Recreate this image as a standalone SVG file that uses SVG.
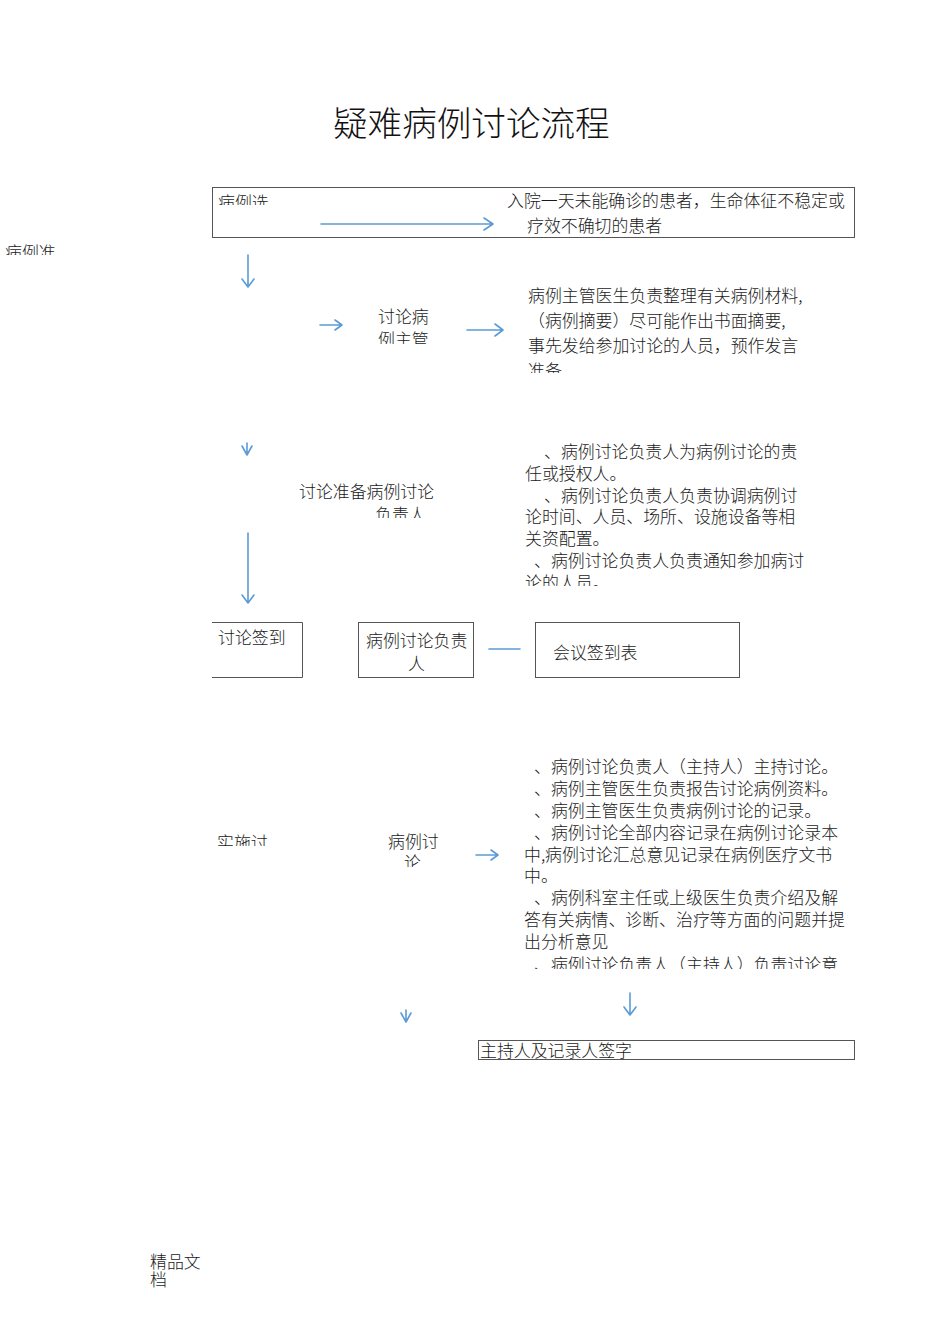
<svg xmlns="http://www.w3.org/2000/svg" width="950" height="1344" viewBox="0 0 950 1344">
<style>
text{font-family:"Noto Sans CJK SC","Liberation Serif",sans-serif;fill:#1a1a1a;font-size:16.9px;font-weight:300}
.t{font-size:34.6px;fill:#111}
.box{fill:none;stroke:#555;stroke-width:1}
.con{fill:none;stroke:#5b9bd5;stroke-width:1.6;stroke-linecap:round;stroke-linejoin:round}
</style>
<defs>
<clipPath id="c1"><rect x="210" y="180" width="100" height="25"/></clipPath>
<clipPath id="c2"><rect x="0" y="235" width="100" height="20"/></clipPath>
<clipPath id="c3"><rect x="370" y="328" width="70" height="16"/></clipPath>
<clipPath id="c4"><rect x="520" y="355" width="300" height="18"/></clipPath>
<clipPath id="c5"><rect x="360" y="503" width="80" height="15"/></clipPath>
<clipPath id="c6"><rect x="515" y="570" width="310" height="16"/></clipPath>
<clipPath id="c7"><rect x="210" y="830" width="80" height="16"/></clipPath>
<clipPath id="c8"><rect x="400" y="852" width="30" height="15"/></clipPath>
<clipPath id="c9"><rect x="515" y="952" width="340" height="17"/></clipPath>
</defs>
<g id="title"><text class="t" x="333" y="136">疑难病例讨论流程</text></g>
<g id="connectors">
<path class="con" d="M321 224H493M484 218L493 224L484 230"/>
<path class="con" d="M248 255V287M242 279L248 287L254 279"/>
<path class="con" d="M320 325H342M335 320L342 325L335 330"/>
<path class="con" d="M467 330H503M495 324L503 330L495 336"/>
<path class="con" d="M247 443V455M242 446L247 455L252 446"/>
<path class="con" d="M248 533V603M242 595L248 603L254 595"/>
<path class="con" d="M489 649H520"/>
<path class="con" d="M476 855H498M491 850L498 855L491 860"/>
<path class="con" d="M630 993V1015M624 1007L630 1015L636 1007"/>
<path class="con" d="M406 1010V1022M401 1013L406 1022L411 1013"/>
</g>
<g id="n-select">
<rect class="box" x="212.5" y="187.5" width="642" height="50"/>
<text x="218" y="209" clip-path="url(#c1)">病例选</text>
<text x="507" y="207">入院一天未能确诊的患者，生命体征不稳定或</text>
<text x="527" y="232">疗效不确切的患者</text>
</g>
<g id="n-prep-label"><text x="5" y="259" clip-path="url(#c2)">病例准</text></g>
<g id="n-doctor">
<text x="378" y="323">讨论病</text>
<text x="378" y="346" clip-path="url(#c3)">例主管</text>
</g>
<g id="n-doctor-desc">
<text x="528" y="302">病例主管医生负责整理有关病例材料,</text>
<text x="528" y="327">（病例摘要）尽可能作出书面摘要,</text>
<text x="528" y="352">事先发给参加讨论的人员，预作发言</text>
<text x="528" y="377" clip-path="url(#c4)">准备。</text>
</g>
<g id="n-leader">
<text x="299" y="498">讨论准备病例讨论</text>
<text x="375" y="521" clip-path="url(#c5)">负责人</text>
</g>
<g id="n-leader-desc">
<text x="544" y="458">、病例讨论负责人为病例讨论的责</text>
<text x="525" y="480">任或授权人。</text>
<text x="544" y="502">、病例讨论负责人负责协调病例讨</text>
<text x="525" y="523">论时间、人员、场所、设施设备等相</text>
<text x="525" y="545">关资配置。</text>
<text x="534" y="567">、病例讨论负责人负责通知参加病讨</text>
<text x="525" y="589" clip-path="url(#c6)">论的人员。</text>
</g>
<g id="n-signin">
<path class="box" d="M212 622.5H302.5V677.5H212"/>
<text x="218" y="644">讨论签到</text>
</g>
<g id="n-leader2">
<rect class="box" x="358.5" y="622.5" width="115" height="55"/>
<text x="366" y="647">病例讨论负责</text>
<text x="408" y="670">人</text>
</g>
<g id="n-sheet">
<rect class="box" x="535.5" y="622.5" width="204" height="55"/>
<text x="553" y="659">会议签到表</text>
</g>
<g id="n-impl-label"><text x="217" y="849" clip-path="url(#c7)">实施讨</text></g>
<g id="n-discuss">
<text x="388" y="848">病例讨</text>
<text x="404" y="869" clip-path="url(#c8)">论</text>
</g>
<g id="n-discuss-desc">
<text x="534" y="773">、病例讨论负责人（主持人）主持讨论。</text>
<text x="534" y="795">、病例主管医生负责报告讨论病例资料。</text>
<text x="534" y="817">、病例主管医生负责病例讨论的记录。</text>
<text x="534" y="839">、病例讨论全部内容记录在病例讨论录本</text>
<text x="524" y="861">中,病例讨论汇总意见记录在病例医疗文书</text>
<text x="524" y="882">中。</text>
<text x="534" y="904">、病例科室主任或上级医生负责介绍及解</text>
<text x="524" y="926">答有关病情、诊断、治疗等方面的问题并提</text>
<text x="524" y="948">出分析意见</text>
<text x="534" y="971" clip-path="url(#c9)">、病例讨论负责人（主持人）负责讨论意</text>
</g>
<g id="n-sign">
<rect class="box" x="478.5" y="1040.5" width="376" height="19"/>
<text x="480" y="1057">主持人及记录人签字</text>
</g>
<g id="footer">
<text x="150" y="1268">精品文</text>
<text x="150" y="1286">档</text>
</g>
</svg>
